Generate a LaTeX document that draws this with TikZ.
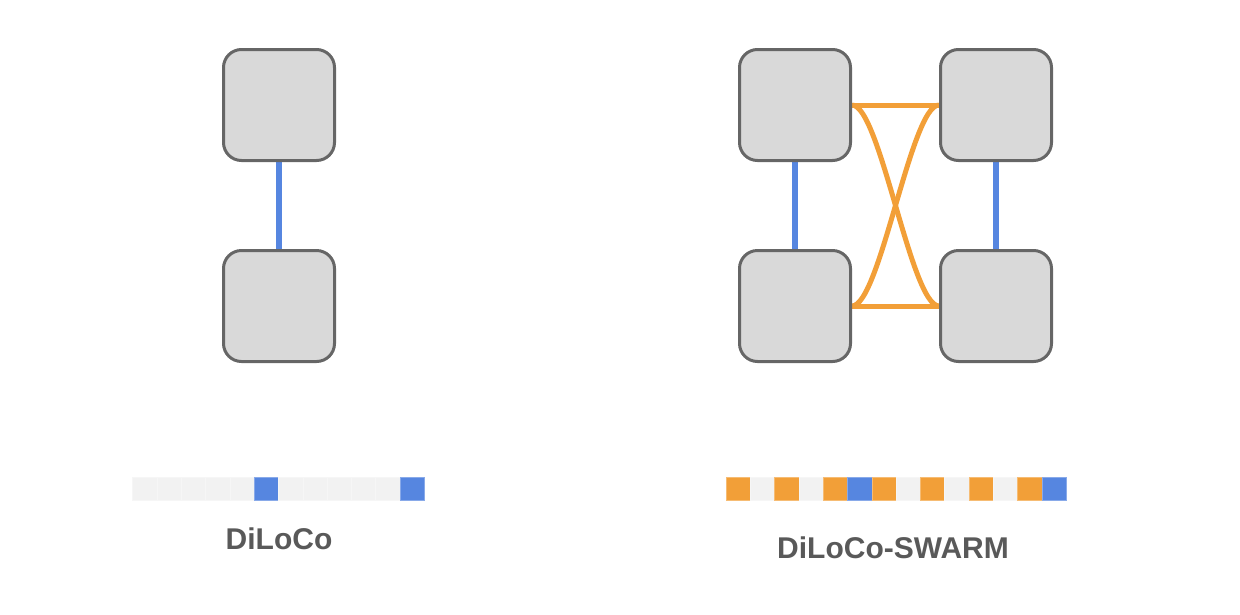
\documentclass[tikz,border=0pt]{standalone}
\usepackage{fontspec}
\setmainfont{Liberation Sans}
\usetikzlibrary{backgrounds}
\definecolor{boxfill}{HTML}{D9D9D9}
\definecolor{boxdraw}{HTML}{666666}
\definecolor{linkblue}{HTML}{5686E0}
\definecolor{linkorange}{HTML}{F29F38}
\definecolor{cellgray}{HTML}{F2F2F2}
\definecolor{txtgray}{HTML}{595959}
\tikzset{
  worker/.style={draw=boxdraw, fill=boxfill, line width=3pt, rounded corners=18pt,
    minimum width=111pt, minimum height=111pt, inner sep=0pt},
  bluelink/.style={draw=linkblue, line width=6.5pt},
  orangelink/.style={draw=linkorange, line width=5pt},
  label/.style={font=\bfseries\fontsize{30}{33}\selectfont, text=txtgray, anchor=base, inner sep=0pt},
  cell/.style={line width=0.6pt}
}
\begin{document}
\begin{tikzpicture}[x=1pt,y=-1pt]
\useasboundingbox (0,0) rectangle (1240,614);
% left: DiLoCo
\node[worker] (lt) at (279,105) {};
\node[worker] (lb) at (279,306) {};
% right: DiLoCo-SWARM
\node[worker] (tl) at (795,105) {};
\node[worker] (bl) at (795,306) {};
\node[worker] (tr) at (996,105) {};
\node[worker] (br) at (996,306) {};
\begin{scope}[on background layer]
\draw[bluelink] (lt.south) -- (lb.north);
\draw[bluelink] (tl.south) -- (bl.north);
\draw[bluelink] (tr.south) -- (br.north);
\draw[orangelink] (tl.east) -- (tr.west);
\draw[orangelink] (bl.east) -- (br.west);
\draw[orangelink] (tl.east) .. controls +(28,0) and +(-28,0) .. (br.west);
\draw[orangelink] (tr.west) .. controls +(-28,0) and +(28,0) .. (bl.east);
\end{scope}
% bars
\foreach \i/\c in {0/cellgray,1/cellgray,2/cellgray,3/cellgray,4/cellgray,5/linkblue,
                   6/cellgray,7/cellgray,8/cellgray,9/cellgray,10/cellgray,11/linkblue}{
  \path[cell, fill=\c, draw=\c!70!white] ({132.7+\i*24.3},477) rectangle ++(24.3,23);
}
\foreach \i/\c in {0/linkorange,1/cellgray,2/linkorange,3/cellgray,4/linkorange,5/linkblue,
                   6/linkorange,7/cellgray,8/linkorange,9/cellgray,10/linkorange,11/cellgray,
                   12/linkorange,13/linkblue}{
  \path[cell, fill=\c, draw=\c!70!white] ({726+\i*24.3},477) rectangle ++(24.3,23);
}
\node[label] (t1) at (279,549) {DiLoCo};
\node[label] (t2) at (893,558) {DiLoCo-SWARM};
\end{tikzpicture}
\end{document}
